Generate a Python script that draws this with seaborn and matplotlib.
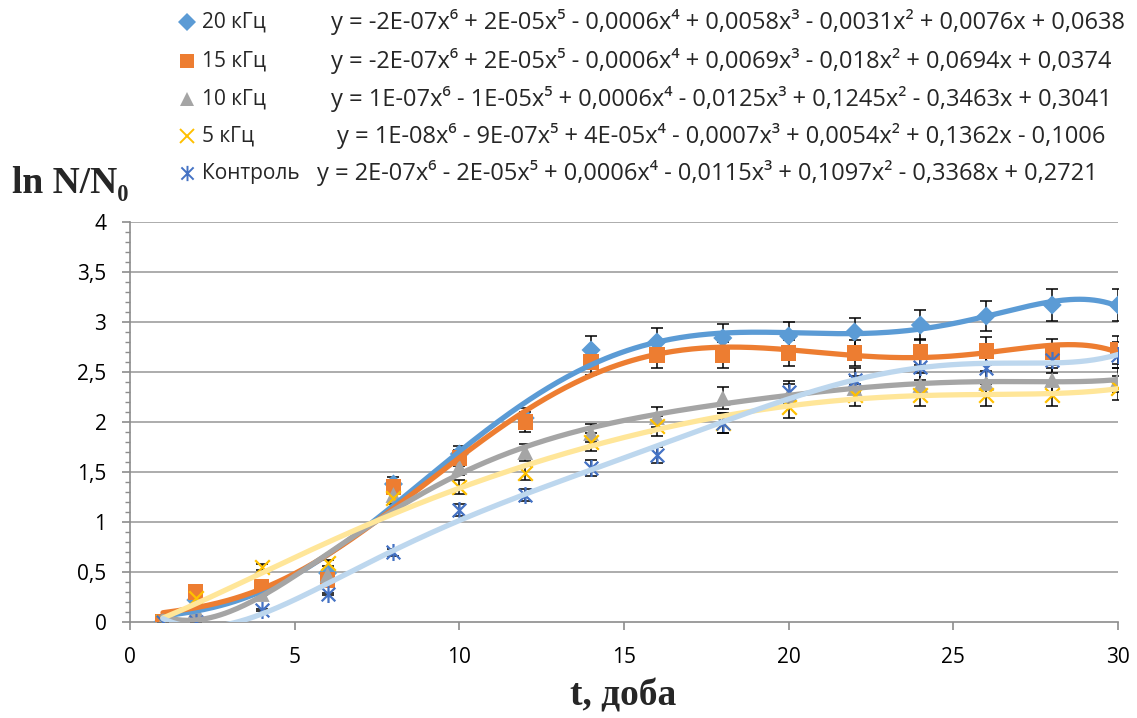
import numpy as np
import pandas as pd
import matplotlib
matplotlib.use("Agg")
import matplotlib.pyplot as plt
import seaborn as sns
from matplotlib.lines import Line2D
from matplotlib.path import Path

# ---------------- data ----------------
t_days = [1, 2, 4, 6, 8, 10, 12, 14, 16, 18, 20, 22, 24, 26, 28, 30]
khz20 = [0, 0.22, 0.30, 0.49, 1.38, 1.68, 2.04, 2.72, 2.80, 2.84, 2.86, 2.90, 2.97, 3.06, 3.17, 3.17]
khz15 = [0, 0.30, 0.35, 0.42, 1.35, 1.64, 2.00, 2.60, 2.67, 2.67, 2.69, 2.69, 2.70, 2.71, 2.70, 2.72]
khz10 = [0, 0.12, 0.28, 0.47, 1.27, 1.55, 1.70, 1.89, 2.05, 2.24, 2.27, 2.34, 2.37, 2.39, 2.42, 2.42]
khz5 = [0, 0.24, 0.55, 0.59, 1.24, 1.35, 1.49, 1.80, 1.96, 1.99, 2.15, 2.27, 2.27, 2.27, 2.27, 2.34]
control = [0, 0.00, 0.12, 0.28, 0.70, 1.12, 1.27, 1.54, 1.67, 1.99, 2.30, 2.42, 2.55, 2.54, 2.62, 2.67]
error_fraction = 0.05  # percentage error bars (5 %)

series_names = ["20 кГц", "15 кГц", "10 кГц", "5 кГц", "Контроль"]
equations = [
    "y = -2E-07x⁶ + 2E-05x⁵ - 0,0006x⁴ + 0,0058x³ - 0,0031x² + 0,0076x + 0,0638",
    "y = -2E-07x⁶ + 2E-05x⁵ - 0,0006x⁴ + 0,0069x³ - 0,018x² + 0,0694x + 0,0374",
    "y = 1E-07x⁶ - 1E-05x⁵ + 0,0006x⁴ - 0,0125x³ + 0,1245x² - 0,3463x + 0,3041",
    "y = 1E-08x⁶ - 9E-07x⁵ + 4E-05x⁴ - 0,0007x³ + 0,0054x² + 0,1362x - 0,1006",
    "y = 2E-07x⁶ - 2E-05x⁵ + 0,0006x⁴ - 0,0115x³ + 0,1097x² - 0,3368x + 0,2721",
]
y_ticks = [0, 0.5, 1, 1.5, 2, 2.5, 3, 3.5, 4]
y_tick_labels = ["0", "0,5", "1", "1,5", "2", "2,5", "3", "3,5", "4"]
x_ticks = [0, 5, 10, 15, 20, 25, 30]
x_tick_labels = ["0", "5", "10", "15", "20", "25", "30"]
y_label = "ln N/N₀"
x_label = "t, доба"

series_values = [khz20, khz15, khz10, khz5, control]

# ---------------- style ----------------
star = Path([(0, -1), (0, 1), (-0.8, -0.8), (0.8, 0.8), (-0.8, 0.8), (0.8, -0.8)],
            [Path.MOVETO, Path.LINETO, Path.MOVETO, Path.LINETO, Path.MOVETO, Path.LINETO])
marker_colors = ["#5B9BD5", "#ED7D31", "#A5A5A5", "#FFC000", "#4472C4"]
trend_colors = ["#5B9BD5", "#ED7D31", "#A5A5A5", "#FFE699", "#BDD7EE"]
markers = ["D", "s", "^", "x", star]
line_markers = [False, False, False, True, True]
marker_sizes = [95, 120, 130, 110, 150]

sns.set_theme(style="white")
plt.rcParams["font.family"] = ["Open Sans", "DejaVu Sans"]

W, H = 1137, 718
fig = plt.figure(figsize=(W / 100, H / 100), dpi=100)
ax = fig.add_axes([130 / W, 1 - 622 / H, (1118 - 130) / W, (622 - 222) / H])

grid_color = "#A6A6A6"
for y in y_ticks[1:]:
    ax.axhline(y, color=grid_color, lw=1.3, zorder=0)

t = np.asarray(t_days, dtype=float)
x_fit = np.linspace(1, 30, 400)
for name, vals, mc, mk, is_line, ms in zip(series_names, series_values, marker_colors,
                                           markers, line_markers, marker_sizes):
    vals = np.asarray(vals, dtype=float)
    err = vals * error_fraction
    ax.errorbar(t, vals, yerr=err, fmt="none", ecolor="black", elinewidth=1.1,
                capsize=4.5, capthick=1.1, zorder=2)
    sns.scatterplot(x=t, y=vals, marker=mk, s=ms, color=mc,
                    edgecolor=mc if is_line else "none",
                    linewidth=1.6 if is_line else 0, ax=ax, zorder=3, legend=False)

for vals, tc in zip(series_values, trend_colors):
    coeffs = np.polyfit(t, np.asarray(vals, float), 6)
    df = pd.DataFrame({"x": x_fit, "y": np.polyval(coeffs, x_fit)})
    sns.lineplot(data=df, x="x", y="y", color=tc, lw=3.8, ax=ax, zorder=4,
                 legend=False)

ax.set_xlim(0, 30)
ax.set_ylim(0, 4)
ax.set_xticks(x_ticks)
ax.set_xticklabels(x_tick_labels)
ax.set_yticks(y_ticks)
ax.set_yticklabels(y_tick_labels)
ax.set_yticks(np.arange(0, 4.01, 0.1), minor=True)
ax.set_xlabel("")
ax.set_ylabel("")
for s in ["top", "right"]:
    ax.spines[s].set_visible(False)
for s in ["left", "bottom"]:
    ax.spines[s].set_color("#8C8C8C")
    ax.spines[s].set_linewidth(1.2)
ax.tick_params(axis="x", which="major", direction="out", length=6, width=1.2,
               color="#8C8C8C", labelsize=15, pad=12, bottom=True)
ax.tick_params(axis="y", which="major", direction="out", length=6, width=1.2,
               color="#8C8C8C", labelsize=15, pad=11, left=True)
ax.tick_params(axis="y", which="minor", direction="out", length=3.5, width=1.0,
               color="#8C8C8C", left=True)
ax.tick_params(axis="x", which="minor", bottom=False)
for lab in ax.get_xticklabels() + ax.get_yticklabels():
    lab.set_color("black")

# axis titles
fig.text(12 / W, 1 - 193 / H, y_label, fontsize=27, fontweight="bold",
         family=["Liberation Serif", "DejaVu Serif"], ha="left", va="baseline")
fig.text(623 / W, 1 - 706 / H, x_label, fontsize=27, fontweight="bold",
         family=["Liberation Serif", "DejaVu Serif"], ha="center", va="baseline")

# legend with trend equations
row_y = [22, 61, 99, 136, 173]
eq_x = [331, 331, 331, 337, 317]
leg_ms = [9, 10, 10, 10, 11]
for i in range(5):
    yy = 1 - row_y[i] / H
    kw = dict(marker=markers[i], markersize=leg_ms[i], color=marker_colors[i],
              linestyle="none")
    kw.update(markeredgewidth=1.4 if line_markers[i] else 0)
    fig.add_artist(Line2D([187 / W], [yy], transform=fig.transFigure, **kw))
    fig.text(202 / W, yy, series_names[i], fontsize=15, ha="left", va="center")
    fig.text(eq_x[i] / W, yy, equations[i], fontsize=17.0, ha="left", va="center")

fig.savefig("out.png", dpi=100)
